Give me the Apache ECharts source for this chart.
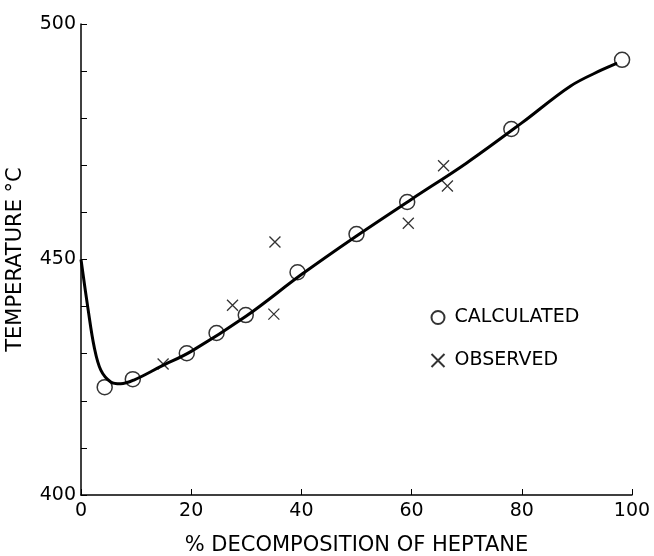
<!DOCTYPE html>
<html>
<head>
<meta charset="utf-8">
<script src="https://cdn.jsdelivr.net/npm/echarts@6/dist/echarts.min.js"></script>
<style>
html, body { margin: 0; padding: 0; background: #fff; }
#chart { width: 654px; height: 556px; }
</style>
</head>
<body>
<div id="chart"></div>
<script>
// calculated points (% decomposition, temperature)
var calcX = [4.3, 9.4, 19.2, 24.6, 29.9, 39.3, 50.0, 59.2, 78.1, 98.2];
var calcY = [422.9, 424.6, 430.1, 434.4, 438.2, 447.3, 455.4, 462.2, 477.7, 492.4];

// observed points
var obsX = [14.9, 27.5, 35.0, 35.2, 59.4, 65.8, 66.5];
var obsY = [427.8, 440.3, 438.4, 453.7, 457.7, 469.9, 465.6];

// smooth curve
var curveX = [0, 1.3, 2.4, 3.6, 5.4, 7.2, 9.6, 14.5, 20, 30, 40, 50, 60, 70, 80, 88.8, 94.6, 97.3];
var curveY = [450, 439.3, 431.4, 426.5, 424.0, 423.6, 424.4, 427.3, 430.5, 438.0, 446.8, 455.0, 462.8, 470.5, 479.0, 486.8, 490.3, 491.7];

var xTicks = [0, 20, 40, 60, 80, 100];
var yLabels = [400, 450, 500];

function pairs(xs, ys) {
    return xs.map(function (x, i) { return [x, ys[i]]; });
}

var font = 'DejaVu Sans';
var chart = echarts.init(document.getElementById('chart'));
var option = {
    animation: false,
    textStyle: { fontFamily: font, color: '#000' },
    grid: { left: 81, right: 22, top: 24, bottom: 61, outerBoundsMode: 'none', containLabel: false },
    legend: {
        data: ['CALCULATED', 'OBSERVED'],
        orient: 'vertical',
        left: 424,
        top: 303,
        itemWidth: 13,
        itemHeight: 13,
        itemGap: 24,
        textStyle: { fontSize: 19, color: '#000', fontFamily: font, padding: [0, 0, 0, 5] }
    },
    xAxis: {
        type: 'value',
        min: 0,
        max: 100,
        interval: 20,
        name: '% DECOMPOSITION OF HEPTANE',
        nameLocation: 'middle',
        nameGap: 40,
        nameTextStyle: { fontSize: 21, color: '#000', fontFamily: font },
        axisLine: { lineStyle: { color: '#000', width: 1.5 } },
        axisTick: { inside: true, length: 6, lineStyle: { color: '#000' } },
        axisLabel: {
            fontSize: 19, color: '#000', margin: 7,
            formatter: function (v) { return xTicks.indexOf(v) >= 0 ? String(v) : ''; }
        },
        splitLine: { show: false }
    },
    yAxis: {
        type: 'value',
        min: 400,
        max: 500,
        interval: 10,
        name: 'TEMPERATURE °C',
        nameLocation: 'middle',
        nameGap: 55,
        nameTextStyle: { fontSize: 21, color: '#000', fontFamily: font },
        axisLine: { show: true, lineStyle: { color: '#000', width: 1.5 } },
        axisTick: { inside: true, length: 6, lineStyle: { color: '#000' } },
        axisLabel: {
            fontSize: 19, color: '#000', margin: 5,
            formatter: function (v) { return yLabels.indexOf(v) >= 0 ? String(v) : ''; }
        },
        splitLine: { show: false }
    },
    series: [
        {
            name: 'curve',
            type: 'line',
            smooth: 0.35,
            symbol: 'none',
            data: pairs(curveX, curveY),
            lineStyle: { color: '#000', width: 3 },
            z: 2
        },
        {
            name: 'CALCULATED',
            type: 'scatter',
            symbol: 'circle',
            symbolSize: 15,
            data: pairs(calcX, calcY),
            itemStyle: { color: 'rgba(255,255,255,0)', borderColor: '#000', borderWidth: 1.5 },
            z: 3
        },
        {
            name: 'OBSERVED',
            type: 'scatter',
            symbol: 'path://M0,0 L10,10 M10,0 L0,10',
            symbolSize: 11,
            data: pairs(obsX, obsY),
            itemStyle: { color: 'none', borderColor: '#000', borderWidth: 1.3 },
            z: 3
        }
    ]
};
chart.setOption(option);
</script>
</body>
</html>
